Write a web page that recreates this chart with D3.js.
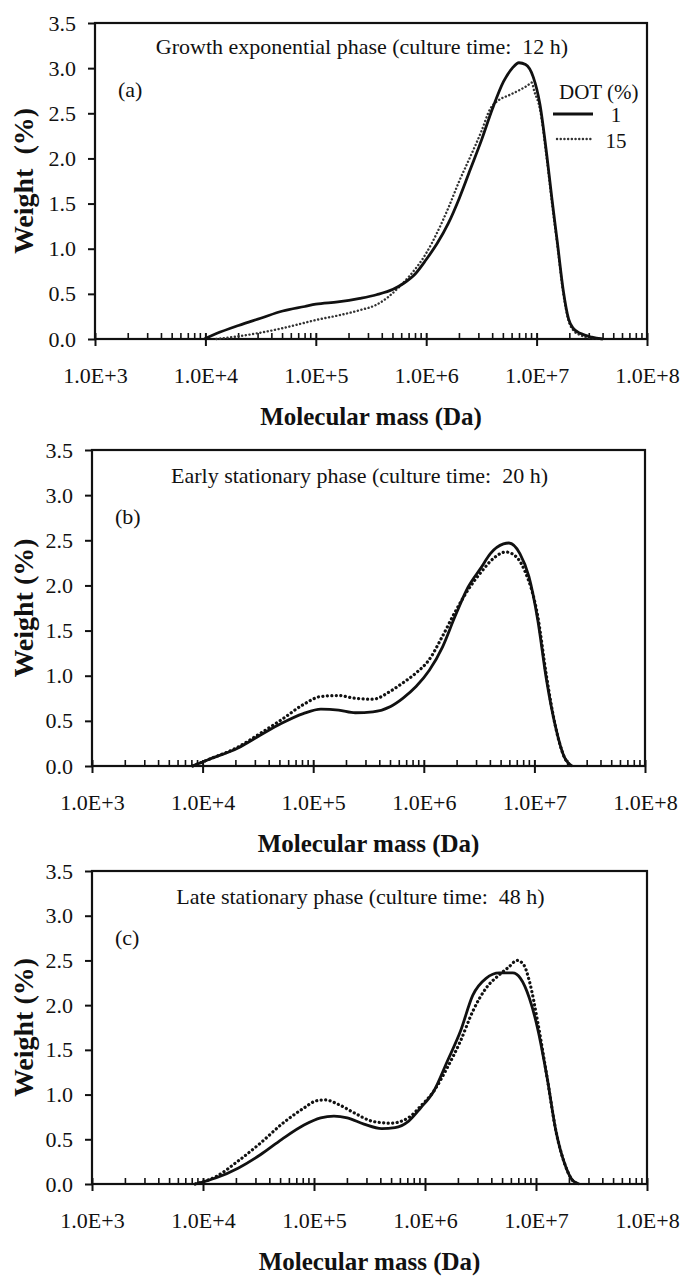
<!DOCTYPE html>
<meta charset="utf-8">
<style>
body { margin: 0; background: #fff; }
svg text { font-family: "Liberation Serif", "Times New Roman", serif; fill: #111; }
.tick text { font-size: 22px; font-family: "Liberation Serif", serif; }
.tick line { stroke: #111; stroke-width: 2; }
.title, .tag, .legend { font-size: 22px; }
.xtitle { font-size: 25px; font-weight: bold; }
.ytitle { font-size: 28px; font-weight: bold; }
</style>
<svg width="681" height="1277"></svg>
<script src="https://d3js.org/d3.v7.min.js"></script>
<script>
// panel texts
var titles = [
  "Growth exponential phase (culture time:\u00a0 12 h)",
  "Early stationary phase (culture time:\u00a0 20 h)",
  "Late stationary phase (culture time:\u00a0 48 h)"
];
var tags = ["(a)", "(b)", "(c)"];
var yTitles = ["Weight\u00a0 (%)", "Weight (%)", "Weight (%)"];
var xTitle = "Molecular mass (Da)";
var yTicks = [0, 0.5, 1.0, 1.5, 2.0, 2.5, 3.0, 3.5];
var xTicks = [1e3, 1e4, 1e5, 1e6, 1e7, 1e8];
var legendTitle = "DOT (%)";
var dotLevels = ["1", "15"];

// [log10 molecular mass, weight %]
var a1 = [[3.99,0],[4.1,0.06],[4.3,0.15],[4.5,0.23],[4.7,0.31],[4.9,0.36],[5.0,0.385],[5.2,0.41],[5.4,0.45],[5.55,0.49],[5.7,0.55],[5.8,0.62],[5.9,0.72],[6.0,0.88],[6.1,1.06],[6.2,1.28],[6.3,1.56],[6.4,1.88],[6.5,2.2],[6.6,2.55],[6.7,2.85],[6.78,3.0],[6.84,3.06],[6.9,3.04],[6.97,2.9],[7.03,2.6],[7.09,2.06],[7.14,1.54],[7.19,1.05],[7.24,0.55],[7.29,0.22],[7.33,0.12],[7.4,0.06],[7.5,0.02],[7.6,0]];
var a15 = [[4.1,0],[4.3,0.03],[4.5,0.07],[4.7,0.12],[4.9,0.18],[5.0,0.21],[5.2,0.26],[5.4,0.32],[5.55,0.38],[5.65,0.46],[5.75,0.57],[5.85,0.7],[6.0,0.95],[6.1,1.18],[6.2,1.45],[6.3,1.75],[6.4,2.02],[6.5,2.3],[6.58,2.55],[6.65,2.64],[6.75,2.7],[6.85,2.76],[6.92,2.81],[6.955,2.84],[6.98,2.74],[7.03,2.55],[7.09,2.02],[7.14,1.5],[7.19,1.02],[7.24,0.52],[7.29,0.2],[7.33,0.1],[7.4,0.04],[7.5,0.01],[7.6,0]];
var b1 = [[3.91,0],[4.05,0.07],[4.32,0.2],[4.52,0.34],[4.71,0.47],[4.91,0.58],[5.07,0.63],[5.23,0.62],[5.38,0.59],[5.54,0.6],[5.7,0.66],[5.81,0.75],[5.93,0.88],[6.05,1.06],[6.17,1.32],[6.28,1.65],[6.4,1.98],[6.52,2.2],[6.6,2.35],[6.72,2.46],[6.77,2.47],[6.87,2.35],[6.95,2.1],[7.03,1.62],[7.11,0.95],[7.19,0.44],[7.27,0.1],[7.34,0]];
var b15 = [[3.91,0],[4.05,0.07],[4.32,0.21],[4.52,0.36],[4.71,0.51],[4.91,0.68],[5.07,0.77],[5.23,0.78],[5.38,0.75],[5.54,0.74],[5.7,0.83],[5.81,0.92],[5.93,1.03],[6.05,1.18],[6.17,1.44],[6.28,1.7],[6.4,1.95],[6.52,2.15],[6.64,2.31],[6.74,2.37],[6.8,2.35],[6.91,2.17],[7.03,1.66],[7.11,0.99],[7.19,0.44],[7.27,0.1],[7.33,0]];
var c1 = [[3.93,0],[4.12,0.07],[4.32,0.18],[4.52,0.33],[4.71,0.5],[4.91,0.66],[5.06,0.74],[5.18,0.76],[5.3,0.74],[5.45,0.67],[5.61,0.62],[5.73,0.63],[5.85,0.7],[5.96,0.85],[6.08,1.04],[6.2,1.37],[6.32,1.71],[6.43,2.11],[6.55,2.3],[6.67,2.36],[6.79,2.36],[6.86,2.3],[6.94,2.08],[7.02,1.71],[7.1,1.19],[7.18,0.59],[7.26,0.22],[7.33,0.04],[7.39,0]];
var c15 = [[3.93,0],[4.12,0.085],[4.32,0.26],[4.52,0.46],[4.71,0.67],[4.91,0.85],[5.02,0.93],[5.1,0.94],[5.22,0.89],[5.37,0.79],[5.53,0.7],[5.69,0.68],[5.85,0.74],[5.96,0.87],[6.08,1.04],[6.2,1.3],[6.32,1.6],[6.43,1.93],[6.55,2.19],[6.67,2.34],[6.75,2.42],[6.83,2.5],[6.89,2.45],[6.94,2.27],[7.02,1.78],[7.1,1.19],[7.18,0.59],[7.26,0.22],[7.33,0.04],[7.39,0]];

var series = [[a1, a15], [b1, b15], [c1, c15]];

var boxes = [
  {l: 95, r: 647, t: 23, b: 339},
  {l: 92, r: 645, t: 450, b: 766},
  {l: 92, r: 647, t: 871, b: 1184}
];

var svg = d3.select("svg");

boxes.forEach(function(box, i) {
  var x = d3.scaleLog().domain([1e3, 1e8]).range([box.l, box.r]);
  var y = d3.scaleLinear().domain([0, 3.5]).range([box.b, box.t]);
  var g = svg.append("g");

  // y axis
  g.append("g")
    .attr("transform", "translate(" + box.l + ",0)")
    .call(d3.axisLeft(y).tickValues(yTicks).tickFormat(d3.format(".1f")).tickSize(7).tickPadding(12))
    .call(function(s) { s.select(".domain").remove(); s.selectAll("text").attr("font-size", null).attr("font-family", null).attr("fill", "#111"); });

  // x axis labels + major ticks crossing the axis
  g.append("g")
    .attr("transform", "translate(0," + box.b + ")")
    .call(d3.axisBottom(x).tickValues(xTicks)
      .tickFormat(function(d) { return "1.0E+" + Math.round(Math.log10(d)); })
      .tickSize(7).tickPadding(21))
    .call(function(s) {
      s.select(".domain").remove();
      s.selectAll(".tick line").attr("y1", -6);
      s.selectAll("text").attr("font-size", null).attr("font-family", null).attr("fill", "#111");
    });

  // minor ticks (inside)
  var minor = x.ticks().filter(function(d) { return xTicks.indexOf(d) < 0; });
  g.append("g").selectAll("line").data(minor).enter().append("line")
    .attr("x1", function(d) { return x(d); })
    .attr("x2", function(d) { return x(d); })
    .attr("y1", box.b).attr("y2", box.b - 6)
    .attr("stroke", "#111").attr("stroke-width", 1.6);

  // frame
  g.append("rect")
    .attr("x", box.l).attr("y", box.t)
    .attr("width", box.r - box.l).attr("height", box.b - box.t)
    .attr("fill", "none").attr("stroke", "#111").attr("stroke-width", 2.2);

  var line = d3.line()
    .x(function(d) { return x(Math.pow(10, d[0])); })
    .y(function(d) { return y(d[1]); })
    .curve(d3.curveMonotoneX);

  g.append("path").datum(series[i][1])
    .attr("d", line).attr("fill", "none")
    .attr("stroke", i == 0 ? "#333" : "#111")
    .attr("stroke-width", i == 0 ? 2.4 : 3.2)
    .attr("stroke-linecap", "round")
    .attr("stroke-dasharray", i == 0 ? "0.1 3.6" : "0.1 4.4");

  g.append("path").datum(series[i][0])
    .attr("d", line).attr("fill", "none")
    .attr("stroke", "#111").attr("stroke-width", 2.8);

  // texts
  g.append("text").attr("class", "title")
    .attr("x", (box.l + box.r) / 2 - 9).attr("y", box.t + (i == 0 ? 31 : 33))
    .attr("text-anchor", "middle").text(titles[i]);

  g.append("text").attr("class", "tag")
    .attr("x", box.l + 23).attr("y", box.t + 74).text(tags[i]);

  g.append("text").attr("class", "xtitle")
    .attr("x", (box.l + box.r) / 2).attr("y", box.b + 86)
    .attr("text-anchor", "middle").text(xTitle);

  g.append("text").attr("class", "ytitle")
    .attr("transform", "translate(33," + ((box.t + box.b) / 2) + ") rotate(-90)")
    .attr("text-anchor", "middle").text(yTitles[i]);
});

// legend in panel (a)
var lg = svg.append("g");
lg.append("text").attr("class", "legend").attr("x", 559).attr("y", 99).style("font-size", "21px").text(legendTitle);
lg.append("line").attr("x1", 553).attr("x2", 593).attr("y1", 114).attr("y2", 114)
  .attr("stroke", "#111").attr("stroke-width", 2.8);
lg.append("line").attr("x1", 557).attr("x2", 593).attr("y1", 139).attr("y2", 139)
  .attr("stroke", "#333").attr("stroke-width", 2.4).attr("stroke-linecap", "round").attr("stroke-dasharray", "0.1 3.6");
lg.selectAll("text.lv").data(dotLevels).enter().append("text")
  .attr("class", "legend lv").attr("x", 616).attr("y", function(d, i) { return 122 + i * 26; })
  .attr("text-anchor", "middle").style("font-size", "21px").text(function(d) { return d; });
</script>
